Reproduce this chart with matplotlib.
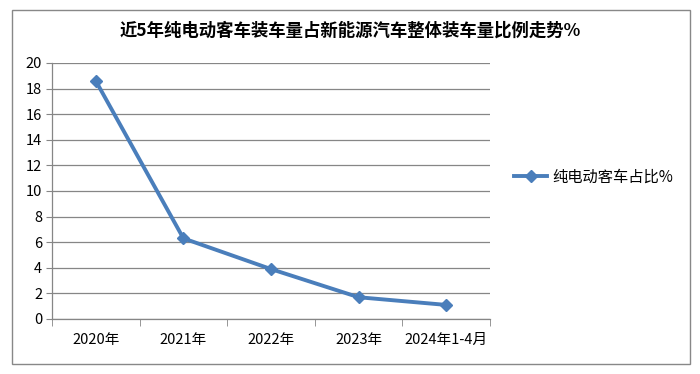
import numpy as np
import matplotlib
matplotlib.use('Agg')
import matplotlib.pyplot as plt
from matplotlib.patches import Rectangle

plt.rcParams['font.family'] = ['Noto Sans CJK SC', 'DejaVu Sans']

categories = ['2020年', '2021年', '2022年', '2023年', '2024年1-4月']
share = [18.6, 6.3, 3.9, 1.7, 1.1]
series_name = '纯电动客车占比%'
title = '近5年纯电动客车装车量占新能源汽车整体装车量比例走势%'

line_color = '#4a7ebb'
grid_color = '#868686'

fig = plt.figure(figsize=(7, 3.74), dpi=100)
fig.patches.append(Rectangle((12 / 700, 10 / 374), 678 / 700, 354 / 374,
                             transform=fig.transFigure, fill=False,
                             edgecolor='#888888', linewidth=1.0))

ax = fig.add_axes([52 / 700, 55 / 374, 438 / 700, 256 / 374])
x = np.arange(len(categories))
ax.plot(x, share, color=line_color, linewidth=2.8, marker='D', markersize=6,
        label=series_name)

ax.set_xlim(-0.5, len(categories) - 0.5)
ax.set_ylim(0, 20)
ax.set_yticks(range(0, 21, 2))
ax.yaxis.grid(True, color=grid_color, linewidth=0.9)
ax.set_axisbelow(True)

ax.set_xticks(x)
ax.set_xticklabels(categories)
ax.set_xticks(np.arange(-0.5, len(categories)), minor=True)
ax.tick_params(axis='x', which='major', length=0, pad=10, labelsize=10.5)
ax.tick_params(axis='x', which='minor', length=5, color=grid_color, direction='out')
ax.tick_params(axis='y', length=4, color=grid_color, labelsize=10.5, pad=3)

for side in ['top', 'right']:
    ax.spines[side].set_visible(False)
for side in ['left', 'bottom']:
    ax.spines[side].set_color(grid_color)
    ax.spines[side].set_linewidth(0.9)

fig.text(0.5, 0.918, title, ha='center', va='center', fontsize=12.5,
         fontweight='bold')

fig.legend(loc='center left', bbox_to_anchor=(500 / 700, 197 / 374),
           frameon=False, fontsize=11, handlelength=2.2, handletextpad=0.3)

fig.savefig('out.png', dpi=100)
